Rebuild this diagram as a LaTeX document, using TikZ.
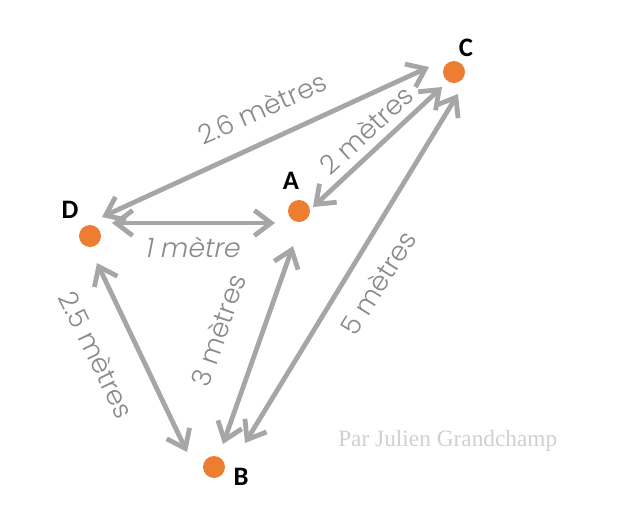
\documentclass[tikz,border=0pt]{standalone}
\usepackage{fontspec}
\usetikzlibrary{arrows.meta}
\newfontfamily\labfont{Poppins Light}
\newfontfamily\labitfont{Poppins Light}[FakeSlant=0.2]
\newfontfamily\namefont{Carlito}[BoldFont={Carlito Bold}]
\newfontfamily\signfont{Liberation Serif}
\definecolor{dotorange}{HTML}{ED7D31}
\definecolor{arrowgray}{HTML}{A6A6A6}
\definecolor{labgray}{HTML}{8A8A8A}
\definecolor{signgray}{HTML}{D0D0D0}
\tikzset{
  pt/.style={circle, fill=dotorange, minimum size=16.5pt, inner sep=0pt},
  ptname/.style={font=\namefont\bfseries\fontsize{20pt}{20pt}\selectfont, text=black, inner sep=0pt},
  link/.style={draw=arrowgray, line width=3.6pt, line cap=butt,
    {Straight Barb[length=12.5pt,width=19pt,line width=3.6pt]}-{Straight Barb[length=12.5pt,width=19pt,line width=3.6pt]}},
  dist/.style={font=\labfont\fontsize{20pt}{20pt}\selectfont, text=labgray, inner sep=0pt},
  distit/.style={font=\labitfont\fontsize{20pt}{20pt}\selectfont, text=labgray, inner sep=0pt}
}
\begin{document}
\begin{tikzpicture}[x=0.75pt,y=-0.75pt]
\useasboundingbox (0,0) rectangle (633,511);
% points
\node[pt] (C) at (454,72) {};
\node[pt] (A) at (299,211) {};
\node[pt] (D) at (90,236) {};
\node[pt] (B) at (214,467) {};
\node[ptname] (Cn) at (466,48) {C};
\node[ptname] (An) at (291,181) {A};
\node[ptname] (Dn) at (70,210) {D};
\node[ptname] (Bn) at (241,477) {B};
% arrow ends
\coordinate (da1) at (112,223);
\coordinate (da2) at (275,223);
\coordinate (dc1) at (102,217);
\coordinate (dc2) at (429,67);
\coordinate (ac1) at (313,207);
\coordinate (ac2) at (442,87);
\coordinate (bc1) at (245,443);
\coordinate (bc2) at (458,94);
\coordinate (ab1) at (293,246);
\coordinate (ab2) at (223,444);
\coordinate (db1) at (97,263);
\coordinate (db2) at (187,452);
\draw[link] (da1) -- (da2);
\draw[link] (dc1) -- (dc2);
\draw[link] (ac1) -- (ac2);
\draw[link] (bc1) -- (bc2);
\draw[link] (ab1) -- (ab2);
\draw[link] (db1) -- (db2);
% distance labels
\node[dist, rotate=24] (l26) at (262,108) {2.6 mètres};
\node[dist, rotate=43] (l2) at (366,130) {2 mètres};
\node[distit] (l1) at (192,247) {1 mètre};
\node[dist, rotate=58] (l5) at (378,283) {5 mètres};
\node[dist, rotate=71] (l3) at (218,330) {3 mètres};
\node[dist, rotate=-64] (l25) at (97,355) {2.5 mètres};
% signature
\node[font=\signfont\fontsize{17.5pt}{17.5pt}\selectfont, text=signgray, inner sep=0pt, anchor=west] (sig) at (338,441) {Par Julien Grandchamp};
\end{tikzpicture}
\end{document}
